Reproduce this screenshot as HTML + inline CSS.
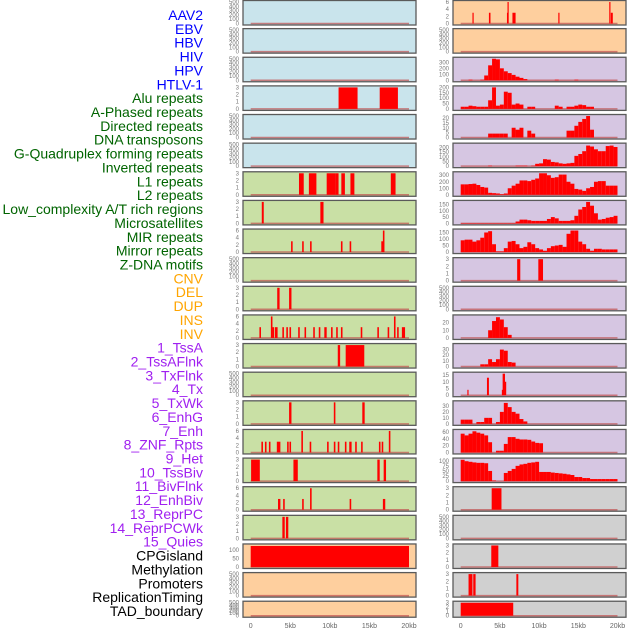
<!DOCTYPE html>
<html><head><meta charset="utf-8"><style>
html,body{margin:0;padding:0;background:#fff;width:630px;height:630px;overflow:hidden}
svg{display:block}
.lbl{font-family:"Liberation Sans",sans-serif;font-size:14px;text-anchor:end}
.tick{font-family:"Liberation Sans",sans-serif;font-size:6px;fill:#777;text-anchor:end}
.xt{font-family:"Liberation Sans",sans-serif;font-size:7px;fill:#666;text-anchor:middle}
</style></head><body>
<svg id="chart" width="630" height="630" viewBox="0 0 630 630"></svg>
<script>
// ---------- labels ----------
const featureLabels = ["AAV2","EBV","HBV","HIV","HPV","HTLV-1","Alu repeats","A-Phased repeats","Directed repeats","DNA transposons","G-Quadruplex forming repeats","Inverted repeats","L1 repeats","L2 repeats","Low_complexity A/T rich regions","Microsatellites","MIR repeats","Mirror repeats","Z-DNA motifs","CNV","DEL","DUP","INS","INV","1_TssA","2_TssAFlnk","3_TxFlnk","4_Tx","5_TxWk","6_EnhG","7_Enh","8_ZNF_Rpts","9_Het","10_TssBiv","11_BivFlnk","12_EnhBiv","13_ReprPC","14_ReprPCWk","15_Quies","CPGisland","Methylation","Promoters","ReplicationTiming","TAD_boundary"];
const labelGroups = ["virus","virus","virus","virus","virus","virus","repeat","repeat","repeat","repeat","repeat","repeat","repeat","repeat","repeat","repeat","repeat","repeat","repeat","sv","sv","sv","sv","sv","chrom","chrom","chrom","chrom","chrom","chrom","chrom","chrom","chrom","chrom","chrom","chrom","chrom","chrom","chrom","other","other","other","other","other"];
const xTickValues = [0,5,10,15,20];
const xTickLabels = ["0","5kb","10kb","15kb","20kb"];

// ---------- left column data (segments: [startKb, endKb, value]) ----------
const leftAluSegs = [[11.1,13.5,3],[16.3,18.6,3]];
const leftL1Segs = [[6.1,6.7,3],[7.35,8.3,3],[9.6,10.7,3],[10.7,11.1,3],[11.45,11.9,3],[12.6,13.1,3],[17.7,18.3,3]];
const leftR8Segs = [[1.4,1.65,3],[8.8,9.2,3]];
const leftR9Segs = [[5.1,5.3,3],[6.5,6.7,3],[7.5,7.7,3],[11.4,11.6,3],[12.5,12.7,3],[16.5,16.8,3],[16.7,16.9,6]];
const leftR11Segs = [[3.35,3.65,3],[4.85,5.15,3]];
const leftR12Segs = [[1.1,1.3,3],[2.55,2.75,6],[2.75,2.95,3],[3.05,3.4,3],[4.0,4.2,3],[4.5,4.7,3],[4.9,5.1,3],[6.0,6.2,3],[6.8,7.0,3],[7.9,8.1,3],[8.6,8.8,3],[9.3,9.6,3],[10.15,10.35,3],[10.8,11.0,3],[11.4,11.6,3],[13.9,14.1,3],[16.0,16.2,3],[17.3,17.5,3],[18.1,18.3,6],[18.5,18.7,3],[19.1,19.5,3]];
const leftR13Segs = [[11.0,11.3,3],[12.0,14.35,3]];
const leftR15Segs = [[4.85,5.15,3],[10.5,10.7,3],[14.1,14.4,3]];
const leftR16Segs = [[1.35,1.55,3],[1.8,2.0,3],[2.3,2.5,3],[3.3,3.75,3],[4.6,4.8,3],[4.9,5.1,3],[6.4,6.6,6],[7.45,7.65,3],[9.65,9.85,3],[10.5,10.7,3],[11.0,11.2,3],[11.9,12.1,3],[12.45,12.75,3],[13.2,13.4,3],[13.95,14.15,3],[16.2,16.4,3],[16.55,16.75,3],[17.45,17.65,6]];
const leftR17Segs = [[0.05,1.15,3],[5.4,5.95,3],[16.0,16.3,3],[16.8,17.1,3]];
const leftR18Segs = [[3.45,3.75,3],[4.1,4.3,3],[6.5,6.7,3],[7.5,7.7,6],[12.5,12.7,3],[16.7,17.0,3]];
const leftR19Segs = [[4.0,4.3,3],[4.45,4.75,3]];
const leftCpGSegs = [[0,20,122]];

// ---------- right column data ----------
const rightAAV2Segs = [[1.5,1.65,3],[3.6,3.8,3],[5.9,6.05,3],[5.97,6.05,6],[6.6,7.0,3],[12.45,12.6,3],[18.95,19.1,6],[19.15,19.4,3]];
// histograms: 0.5kb bins starting at 0kb
const rightHIVBins = [0,0,10,0,0,10,80,250,360,350,200,150,120,90,60,40,20,0,0,0,0,0,0,0,10,0,0,0,0,10,0,0,0,0,0,0,0,0,0,0];
const rightHPVBins = [20,20,30,25,20,20,20,80,200,30,40,160,150,40,50,40,0,20,20,0,0,0,0,0,30,20,0,20,20,30,40,35,20,20,0,0,0,0,0,0];
const rightR5Bins = [0,0,0,0,0,0,0,4,4,4,4,4,0,10,8,10,0,7,4,0,0,0,0,0,0,0,0,7,7,12,16,19,22,8,0,0,0,0,0,0];
const rightGQuadBins = [0,0,0,0,0,0,0,5,0,0,0,0,0,0,5,5,5,0,5,25,30,75,70,45,40,30,25,30,35,110,130,160,220,210,180,160,160,215,220,205];
const rightInvBins = [160,160,165,170,150,120,110,30,25,20,10,20,100,140,170,220,220,210,230,250,330,330,300,260,270,310,310,200,170,90,80,60,100,120,200,210,210,140,140,140];
const rightL2Bins = [3,3,3,3,3,3,3,3,3,3,3,3,3,3,15,30,30,25,20,20,20,20,35,50,40,20,20,20,25,60,110,130,170,140,80,30,35,45,50,60];
const rightMicroBins = [90,95,95,80,90,110,150,160,60,5,5,30,80,85,60,30,40,75,60,30,20,10,30,45,50,55,40,140,165,165,80,60,25,10,25,25,20,20,20,20];
const rightR10Segs = [[7.2,7.6,3],[9.9,10.5,3]];
const rightR12Bins = [0,0,0,0,0,0,0,10,22,27,24,14,4,0,0,0,0,0,0,0,0,0,0,0,0,0,0,0,0,0,0,0,0,0,0,0,0,0,0,0];
const rightR13Bins = [0,0,0,0,0,4,4,13,8,13,30,28,8,7,0,0,0,0,0,0,0,0,0,0,0,0,0,0,0,0,0,0,0,0,0,0,0,0,0,0];
const rightR14Segs = [[0.85,1.0,4],[3.35,3.6,13],[5.25,5.35,4],[5.35,5.65,16],[5.65,5.8,10]];
const rightR15Bins = [7,7,7,0,3,3,10,10,0,3,20,35,28,20,17,8,4,0,0,0,0,0,0,0,0,0,0,0,0,0,0,0,0,0,0,0,0,0,0,0];
const rightR16Bins = [55,50,55,62,58,55,50,30,0,5,5,25,45,45,40,38,38,37,32,28,27,0,0,0,0,0,0,0,0,0,0,0,0,0,0,0,0,0,0,0];
const rightR17Bins = [105,98,95,92,90,90,88,50,3,0,0,40,50,60,75,82,85,90,92,95,45,45,45,42,40,38,36,33,30,20,20,15,15,10,10,10,10,10,10,10];
const rightR18Segs = [[3.95,5.2,3]];
const rightR20Segs = [[3.9,4.8,3]];
const rightR21Segs = [[1.0,1.5,3],[1.6,1.9,3],[7.1,7.35,3]];
const rightR22Segs = [[0,6.7,3]];

// ---------- panel config ----------
const panels = [
 ["L",0,"blue","segs",[],500,[0,100,200,300,400,500]],
 ["L",1,"blue","segs",[],500,[0,100,200,300,400,500]],
 ["L",2,"blue","segs",[],500,[0,100,200,300,400,500]],
 ["L",3,"blue","segs",leftAluSegs,3,[0,1,2,3]],
 ["L",4,"blue","segs",[],500,[0,100,200,300,400,500]],
 ["L",5,"blue","segs",[],500,[0,100,200,300,400,500]],
 ["L",6,"green","segs",leftL1Segs,3,[0,1,2,3]],
 ["L",7,"green","segs",leftR8Segs,3,[0,1,2,3]],
 ["L",8,"green","segs",leftR9Segs,6,[0,2,4,6]],
 ["L",9,"green","segs",[],500,[0,100,200,300,400,500]],
 ["L",10,"green","segs",leftR11Segs,3,[0,1,2,3]],
 ["L",11,"green","segs",leftR12Segs,6,[0,2,4,6]],
 ["L",12,"green","segs",leftR13Segs,3,[0,1,2,3]],
 ["L",13,"green","segs",[],500,[0,100,200,300,400,500]],
 ["L",14,"green","segs",leftR15Segs,3,[0,1,2,3]],
 ["L",15,"green","segs",leftR16Segs,6,[0,2,4,6]],
 ["L",16,"green","segs",leftR17Segs,3,[0,1,2,3]],
 ["L",17,"green","segs",leftR18Segs,6,[0,2,4,6]],
 ["L",18,"green","segs",leftR19Segs,3,[0,1,2,3]],
 ["L",19,"orange","segs",leftCpGSegs,125,[0,50,100]],
 ["L",20,"orange","segs",[],500,[0,100,200,300,400,500]],
 ["L",21,"orange","segs",[],500,[0,100,200,300,400,500]],
 ["R",0,"orange","segs",rightAAV2Segs,6,[0,2,4,6]],
 ["R",1,"orange","segs",[],500,[0,100,200,300,400,500]],
 ["R",2,"purple","bins",rightHIVBins,360,[0,100,200,300]],
 ["R",3,"purple","bins",rightHPVBins,200,[0,50,100,150,200]],
 ["R",4,"purple","bins",rightR5Bins,22,[0,5,10,15,20]],
 ["R",5,"purple","bins",rightGQuadBins,230,[0,50,100,150,200]],
 ["R",6,"purple","bins",rightInvBins,330,[0,100,200,300]],
 ["R",7,"purple","bins",rightL2Bins,170,[0,50,100,150]],
 ["R",8,"purple","bins",rightMicroBins,165,[0,50,100,150]],
 ["R",9,"purple","segs",rightR10Segs,3,[0,1,2,3]],
 ["R",10,"purple","segs",[],500,[0,100,200,300,400,500]],
 ["R",11,"purple","bins",rightR12Bins,28,[0,10,20]],
 ["R",12,"purple","bins",rightR13Bins,38,[0,10,20,30]],
 ["R",13,"purple","segs",rightR14Segs,16,[0,5,10,15]],
 ["R",14,"purple","bins",rightR15Bins,36,[0,10,20,30]],
 ["R",15,"purple","bins",rightR16Bins,63,[0,20,40,60]],
 ["R",16,"purple","bins",rightR17Bins,106,[0,25,50,75,100]],
 ["R",17,"grey","segs",rightR18Segs,3,[0,1,2,3]],
 ["R",18,"grey","segs",[],500,[0,100,200,300,400,500]],
 ["R",19,"grey","segs",rightR20Segs,3,[0,1,2,3]],
 ["R",20,"grey","segs",rightR21Segs,3,[0,1,2,3]],
 ["R",21,"grey","segs",rightR22Segs,3,[0,1,2,3]]
];

const NS="http://www.w3.org/2000/svg";
const svg=document.getElementById("chart");
function mk(tag,attrs,parent){const e=document.createElementNS(NS,tag);for(const k in attrs)e.setAttribute(k,attrs[k]);(parent||svg).appendChild(e);return e;}
const groupColor={virus:"#0000ff",repeat:"#006400",sv:"#ffa500",chrom:"#a020f0",other:"#000000"};
const themeFill={blue:"#c9e4ec",green:"#c9e0a5",orange:"#fecf9e",purple:"#d6c6e2",grey:"#d0d0d0"};
const colGeom={L:{px0:243,px1:416,x0:250.7,x1:409,tickX:239},R:{px0:453,px1:626,x0:460.7,x1:617.5,tickX:449}};

featureLabels.forEach((t,i)=>{
  const el=mk("text",{class:"lbl",x:203,y:(15+i*13.86+5).toFixed(2),fill:groupColor[labelGroups[i]]});
  el.textContent=t;
  
  
});

function xScale(col,kb){const g=colGeom[col];return g.x0+(kb/20)*(g.x1-g.x0);}

panels.forEach(p=>{
  const [col,row,theme,kind,data,ymax,tickVals]=p;
  const g=colGeom[col];
  const top=row===0?0.5:row*28.63;
  const h=row===21?16:24.5;
  const bottom=top+h;
  const yScale=v=>(bottom-1.5)-(v/ymax)*(h-3);
  const grp=mk("g",{});
  
  
  mk("rect",{x:g.px0,y:top,width:g.px1-g.px0,height:h,fill:themeFill[theme]},grp);
  const bl=mk("line",{x1:xScale(col,0),x2:xScale(col,20),y1:yScale(0),y2:yScale(0),stroke:"#c05050","stroke-width":1.5,"stroke-opacity":0.7},grp);
  
  
  const drawBar=(a,b,v)=>{
    if(v<=0)return;
    const xa=xScale(col,a),xb=xScale(col,Math.min(b,20.3));
    const y=yScale(Math.min(v,ymax));
    const r=mk("rect",{x:xa.toFixed(2),y:y.toFixed(2),width:Math.max(1.2,xb-xa).toFixed(2),height:(yScale(0)-y).toFixed(2),fill:"#ff0000"},grp);
    
    
  };
  if(kind==="segs"){data.forEach(s=>drawBar(s[0],s[1],s[2]));}
  else{data.forEach((v,i)=>drawBar(i*0.5,(i+1)*0.5,v));}
  mk("rect",{x:g.px0,y:top,width:g.px1-g.px0,height:h,fill:"none",stroke:"#5a5a5a","stroke-width":1.3},grp);
  tickVals.forEach(tv=>{
    const ty=yScale(tv);
    if(ty<top-4)return;
    const t=mk("text",{class:"tick",x:g.tickX,y:(ty+2).toFixed(2)},grp);
    t.textContent=String(tv);
    
    
  });
});

["L","R"].forEach(col=>{
  xTickValues.forEach((v,i)=>{
    const t=mk("text",{class:"xt",x:xScale(col,v).toFixed(2),y:628});
    t.textContent=xTickLabels[i];
    
    
  });
});
</script>
</body></html>
